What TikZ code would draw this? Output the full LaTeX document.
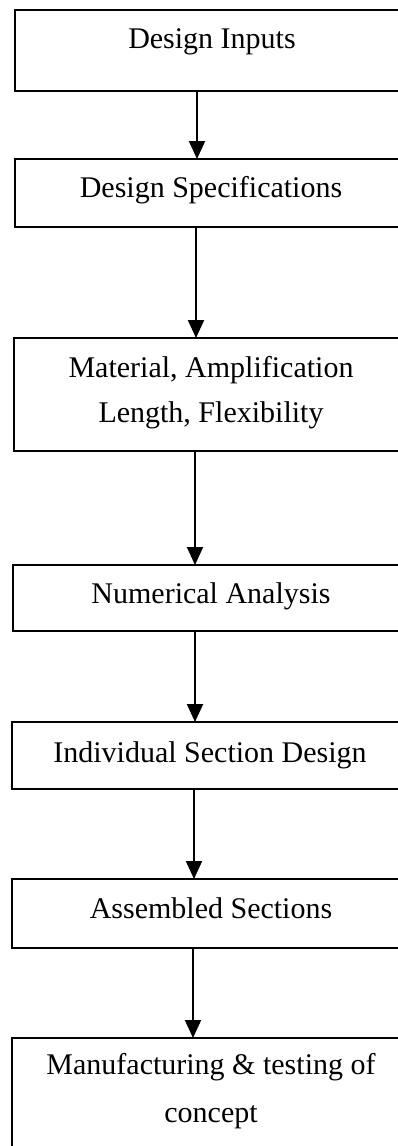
\documentclass[tikz,border=0pt]{standalone}
\usepackage{fontspec}
\setmainfont{Liberation Serif}
\usetikzlibrary{arrows.meta}
\begin{document}
\begin{tikzpicture}[x=1pt,y=1pt,
  stepbox/.style={draw=black, line width=2pt, rectangle, anchor=north west, minimum width=400pt, inner sep=0pt, outer sep=0pt},
  lbl/.style={anchor=base, inner sep=0pt, font=\fontsize{30}{36}\selectfont},
  arr/.style={line width=2pt, -{Triangle[length=18pt,width=16pt]}}]
\useasboundingbox (0,0) rectangle (398,-1146);
\clip (0,0) rectangle (398,-1146);
\fill[white] (0,0) rectangle (398,-1146);
% boxes
\node[stepbox, minimum height=81pt] (b1) at (15,-9.5) {};
\node[stepbox, minimum height=68pt] (b2) at (15,-159) {};
\node[stepbox, minimum height=113pt] (b3) at (14,-338) {};
\node[stepbox, minimum height=66pt] (b4) at (13,-565) {};
\node[stepbox, minimum height=67pt] (b5) at (12,-722) {};
\node[stepbox, minimum height=69pt] (b6) at (12,-879) {};
\node[stepbox, minimum height=130pt] (b7) at (12,-1038) {};
% labels
\node[lbl] (t1) at (212,-48) {Design Inputs};
\node[lbl] (t2) at (211,-197) {Design Specifications};
\node[lbl] (t3a) at (211,-377) {Material, Amplification};
\node[lbl] (t3b) at (211,-422) {Length, Flexibility};
\node[lbl] (t4) at (211,-603) {Numerical Analysis};
\node[lbl] (t5) at (210,-762) {Individual Section Design};
\node[lbl] (t6) at (211,-918) {Assembled Sections};
\node[lbl] (t7a) at (211,-1074) {Manufacturing \& testing of};
\node[lbl] (t7b) at (211,-1122) {concept};
% arrow x positions
\coordinate (x1) at (197,0);
\coordinate (x2) at (196,0);
\coordinate (x3) at (195,0);
\coordinate (x4) at (195,0);
\coordinate (x5) at (194,0);
\coordinate (x6) at (193,0);
\draw[arr] (b1.south -| x1) -- (b2.north -| x1);
\draw[arr] (b2.south -| x2) -- (b3.north -| x2);
\draw[arr] (b3.south -| x3) -- (b4.north -| x3);
\draw[arr] (b4.south -| x4) -- (b5.north -| x4);
\draw[arr] (b5.south -| x5) -- (b6.north -| x5);
\draw[arr] (b6.south -| x6) -- (b7.north -| x6);
\end{tikzpicture}
\end{document}
